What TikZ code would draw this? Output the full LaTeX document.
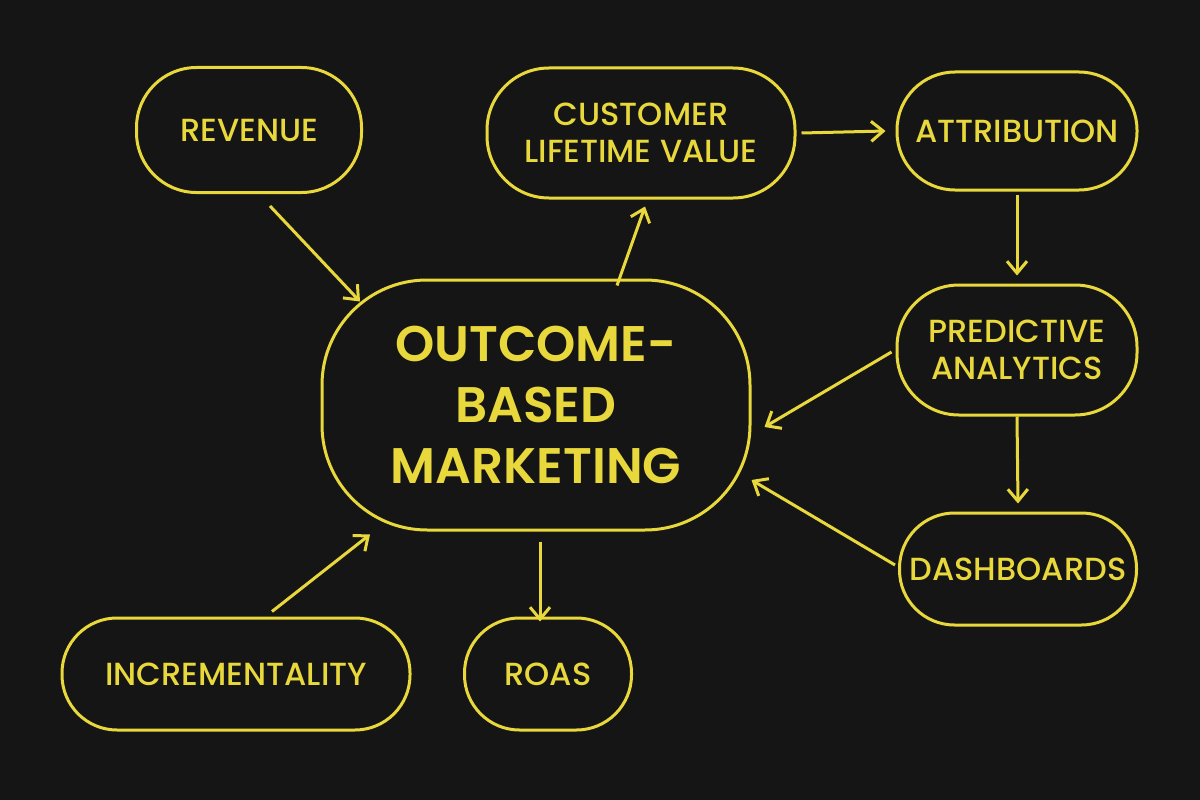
\documentclass[tikz,border=0pt]{standalone}
\usepackage{fontspec}
\setmainfont{Poppins Medium}
\newfontfamily\semib{Poppins SemiBold}
\usetikzlibrary{arrows.meta}
\definecolor{bg}{HTML}{151515}
\definecolor{yel}{HTML}{E8D83C}
\begin{document}
\begin{tikzpicture}[x=1pt,y=-1pt,
  box/.style={draw=yel,line width=3pt,text=yel,font=\fontsize{32}{37}\selectfont,align=center,inner sep=0pt},
  arr/.style={draw=yel,line width=3pt,-{Straight Barb[length=12pt,width=20pt,line width=3pt]}}]
\fill[bg] (0,0) rectangle (1200,800);
\useasboundingbox (0,0) rectangle (1200,800);
\node[box,minimum width=225,minimum height=125,rounded corners=60] (rev) at (249,130) {REVENUE};
\node[box,minimum width=308,minimum height=130,rounded corners=62] (clv) at (641,133) {CUSTOMER\\LIFETIME VALUE};
\node[box,minimum width=240,minimum height=118,rounded corners=58] (att) at (1017,131) {ATTRIBUTION};
\node[box,minimum width=428,minimum height=250,rounded corners=105,font=\semib\fontsize{50}{61}\selectfont] (cen) at (536,405) {OUTCOME-\\BASED\\MARKETING};
\node[box,minimum width=240,minimum height=130,rounded corners=62] (pre) at (1017,350) {PREDICTIVE\\ANALYTICS};
\node[box,minimum width=237,minimum height=112,rounded corners=55] (das) at (1018,569) {DASHBOARDS};
\node[box,minimum width=348,minimum height=112,rounded corners=55] (inc) at (236,674) {INCREMENTALITY};
\node[box,minimum width=167,minimum height=112,rounded corners=55] (roa) at (548,674) {ROAS};
\draw[arr] ([xshift=21,yshift=-12]rev.south) -- ([xshift=-176,yshift=-23]cen.north);
\draw[arr] ([xshift=81,yshift=-7]cen.north) -- ([xshift=4,yshift=-7]clv.south);
\draw[arr] ([xshift=5]clv.east) -- ([xshift=-10]att.west);
\draw[arr] ([yshift=-3]att.south) -- ([yshift=8]pre.north);
\draw[arr] ([xshift=-4,yshift=-2]pre.west) -- ([xshift=13,yshift=-22]cen.east);
\draw[arr] (pre.south) -- ([yshift=8]das.north);
\draw[arr] ([xshift=-3,yshift=4]das.west) -- ([xshift=0,yshift=-75]cen.east);
\draw[arr] ([xshift=36,yshift=5]inc.north) -- ([xshift=-166,yshift=-3]cen.south);
\draw[arr] ([xshift=4,yshift=-10]cen.south) -- ([xshift=-8,yshift=-5]roa.north);
\end{tikzpicture}
\end{document}
